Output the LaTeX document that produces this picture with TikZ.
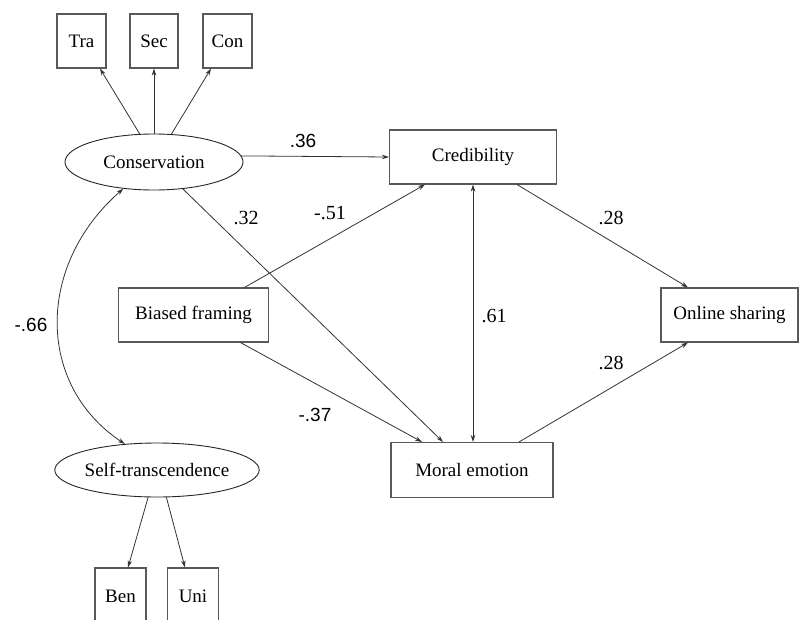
\documentclass[tikz,border=0pt]{standalone}
\usepackage{fontspec}
\setmainfont{Liberation Serif}
\newfontfamily\nodeserif{Liberation Serif}
\newfontfamily\labelsans{Liberation Sans}
\usetikzlibrary{shapes.geometric,arrows.meta}

\tikzset{
  obs/.style={draw=black!65, line width=1.1pt, rectangle, inner sep=0pt,
    minimum height=54pt, font=\nodeserif\fontsize{19}{22}\selectfont},
  latent/.style={draw=black!85, line width=0.9pt, ellipse, inner sep=0pt,
    font=\nodeserif\fontsize{19}{22}\selectfont},
  path/.style={draw=black!80, line width=0.8pt, -{Stealth[length=7pt,width=4.5pt]}},
  twoway/.style={draw=black!80, line width=0.8pt, {Stealth[length=7pt,width=4.5pt]}-{Stealth[length=7pt,width=4.5pt]}},
  coef/.style={font=\nodeserif\fontsize{20}{22}\selectfont, inner sep=0pt},
  coefsans/.style={font=\labelsans\fontsize{19}{22}\selectfont, inner sep=0pt}
}

\begin{document}
\begin{tikzpicture}[x=1pt,y=-1pt]
\useasboundingbox (0,0) rectangle (800,619);
\clip (0,0) rectangle (800,619);

% indicators of Conservation
\node[obs, minimum width=49pt] (tra) at (81.5,41) {Tra};
\node[obs, minimum width=48pt] (sec) at (154,41) {Sec};
\node[obs, minimum width=49pt] (con) at (227.5,41) {Con};

% latent variables
\node[latent, minimum width=178pt, minimum height=56pt] (cons) at (154,162) {Conservation};
\node[latent, minimum width=188pt, minimum height=54pt] (self) at (157,470) {Self-transcendence};

% indicators of Self-transcendence
\node[obs, minimum width=51pt, minimum height=56pt] (ben) at (120.5,596) {Ben};
\node[obs, minimum width=51pt, minimum height=56pt] (uni) at (193,596) {Uni};

% observed constructs
\node[obs, minimum width=167pt] (cred) at (473,157) {Credibility};
\node[obs, minimum width=150pt] (bias) at (193.5,315) {Biased framing};
\node[obs, minimum width=162pt, minimum height=55pt] (moral) at (472,470) {Moral emotion};
\node[obs, minimum width=137pt] (share) at (729.5,315) {Online sharing};

% measurement paths
\draw[path] (cons.117) -- ([xshift=18.5pt]tra.south);
\draw[path] (cons.north) -- (sec.south);
\draw[path] (cons.58) -- ([xshift=-16.5pt]con.south);
\draw[path] (self.-108) -- ([xshift=7.5pt]ben.north);
\draw[path] (self.-71) -- ([xshift=-8pt]uni.north);

% correlation between the value dimensions
\draw[twoway] (cons.-139) .. controls (36,265) and (36,385) .. (self.141.5);

% structural paths
\draw[path] (cons.4) -- (cred.west);
\draw[path] (cons.-43) -- ([xshift=-29pt]moral.north);
\draw[path] ([xshift=51pt]bias.north) -- ([xshift=-48pt]cred.south);
\draw[path] ([xshift=47pt]bias.south) -- ([xshift=-50pt]moral.north);
\draw[twoway] (cred.south) -- (cred.south |- moral.north);
\draw[path] ([xshift=44pt]cred.south) -- ([xshift=-41.5pt]share.north);
\draw[path] ([xshift=47pt]moral.north) -- ([xshift=-41.5pt]share.south);

% coefficients
\node[coefsans] (c36) at (303,141) {.36};
\node[coef] (c32) at (246,218) {.32};
\node[coef] (c51) at (330,213) {-.51};
\node[coefsans] (c37) at (315,415) {-.37};
\node[coef] (c61) at (494,316) {.61};
\node[coef] (c28a) at (611,218) {.28};
\node[coef] (c28b) at (611,363) {.28};
\node[coefsans] (c66) at (31,325) {-.66};
\end{tikzpicture}
\end{document}
